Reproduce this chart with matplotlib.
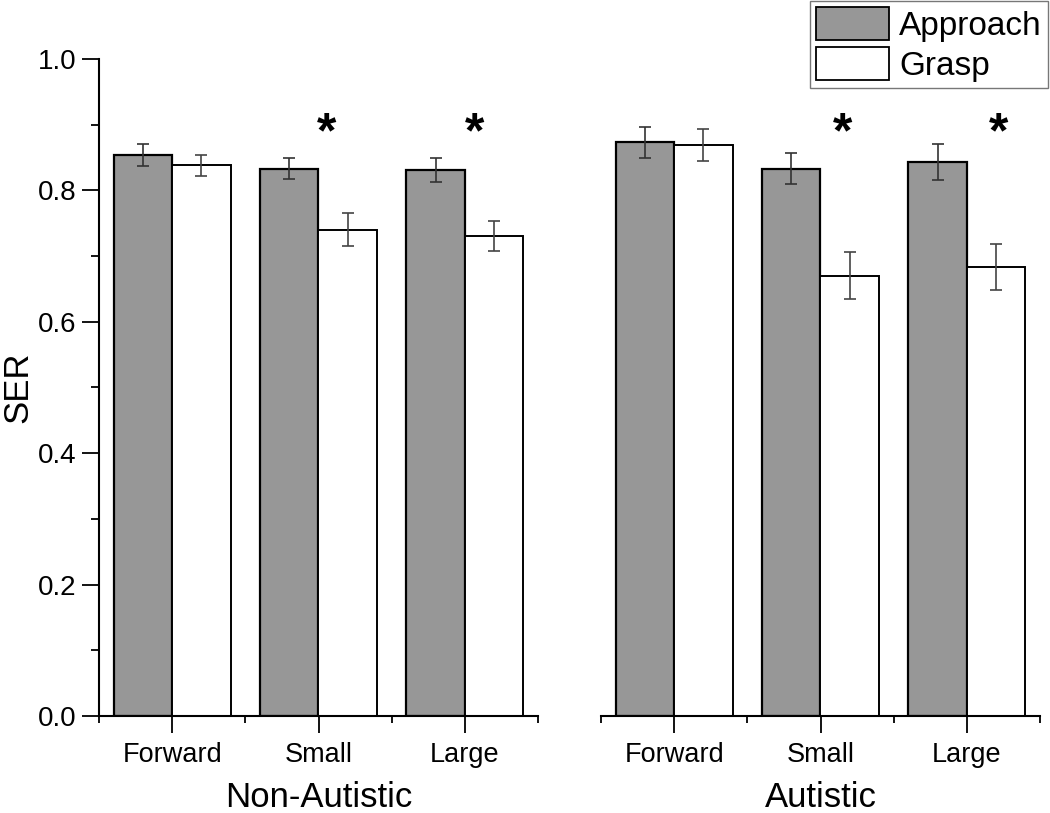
import matplotlib.pyplot as plt
import matplotlib.ticker as mticker
from matplotlib.patches import Patch
import numpy as np

plt.rcParams['font.family'] = ['Liberation Sans', 'DejaVu Sans']

conditions = ['Forward', 'Small', 'Large']
groups = ['Non-Autistic', 'Autistic']

# SER means and error bars, per group
approach = {'Non-Autistic': [0.854, 0.833, 0.831], 'Autistic': [0.873, 0.833, 0.843]}
approach_err = {'Non-Autistic': [0.017, 0.016, 0.018], 'Autistic': [0.024, 0.024, 0.027]}
grasp = {'Non-Autistic': [0.838, 0.740, 0.731], 'Autistic': [0.869, 0.670, 0.684]}
grasp_err = {'Non-Autistic': [0.016, 0.025, 0.023], 'Autistic': [0.024, 0.036, 0.035]}

# significance stars (x in category units, y in SER)
stars = {'Non-Autistic': [(1.055, 0.885), (2.07, 0.885)], 'Autistic': [(1.15, 0.885), (2.22, 0.885)]}

fig = plt.figure(figsize=(10.5, 8.13), dpi=100)
axes = [fig.add_axes([99/1050, 1-716/813, 439/1050, 657/813]),
        fig.add_axes([601/1050, 1-716/813, 439/1050, 657/813])]

x = np.arange(len(conditions))
w = 0.4
for ax, g in zip(axes, groups):
    ax.bar(x - w/2, approach[g], w, color='#979797', edgecolor='black', linewidth=1.6, zorder=2)
    ax.bar(x + w/2, grasp[g], w, color='white', edgecolor='black', linewidth=1.4, zorder=2)
    ax.errorbar(x - w/2, approach[g], yerr=approach_err[g], fmt='none', ecolor='#333333',
                elinewidth=1.2, capsize=4.5, capthick=1.2, zorder=3)
    ax.errorbar(x + w/2, grasp[g], yerr=grasp_err[g], fmt='none', ecolor='#444444',
                elinewidth=1.2, capsize=4.5, capthick=1.2, zorder=3)
    for sx, sy in stars[g]:
        ax.text(sx, sy, '*', ha='center', va='center', fontsize=36, fontweight='bold')

    ax.set_xlim(-0.5, 2.5)
    ax.set_ylim(0, 1.0)
    ax.set_xticks(x)
    ax.set_xticklabels(conditions, fontsize=19.5)
    ax.xaxis.set_minor_locator(mticker.FixedLocator([-0.5, 0.5, 1.5, 2.5]))
    ax.tick_params(axis='x', which='major', length=12, width=1.3, pad=7)
    ax.tick_params(axis='x', which='minor', length=5, width=1.3)
    ax.set_xlabel(g, fontsize=25, labelpad=9)
    for s in ['top', 'right']:
        ax.spines[s].set_visible(False)
    ax.spines['bottom'].set_linewidth(1.5)
    ax.spines['left'].set_linewidth(1.5)

ax0, ax1 = axes
ax0.yaxis.set_major_locator(mticker.MultipleLocator(0.2))
ax0.yaxis.set_minor_locator(mticker.MultipleLocator(0.1))
ax0.yaxis.set_major_formatter(mticker.FormatStrFormatter('%.1f'))
ax0.tick_params(axis='y', which='major', length=12, width=1.3, labelsize=20, pad=4)
ax0.tick_params(axis='y', which='minor', length=6, width=1.3)
ax0.set_ylabel('SER', fontsize=25, labelpad=3)

ax1.spines['left'].set_visible(False)
ax1.set_yticks([])

handles = [Patch(facecolor='#979797', edgecolor='black', linewidth=1.3, label='Approach'),
           Patch(facecolor='white', edgecolor='black', linewidth=1.3, label='Grasp')]
leg = fig.legend(handles=handles, loc='upper right', bbox_to_anchor=(1048/1050, 1 - 1/813),
                 fontsize=24, frameon=True, fancybox=False, borderaxespad=0,
                 handlelength=2.2, handleheight=1.15, labelspacing=0.15,
                 borderpad=0.18, handletextpad=0.3)
leg.get_frame().set_edgecolor('#555555')
leg.get_frame().set_linewidth(1.0)

fig.savefig('out.png', dpi=100)
